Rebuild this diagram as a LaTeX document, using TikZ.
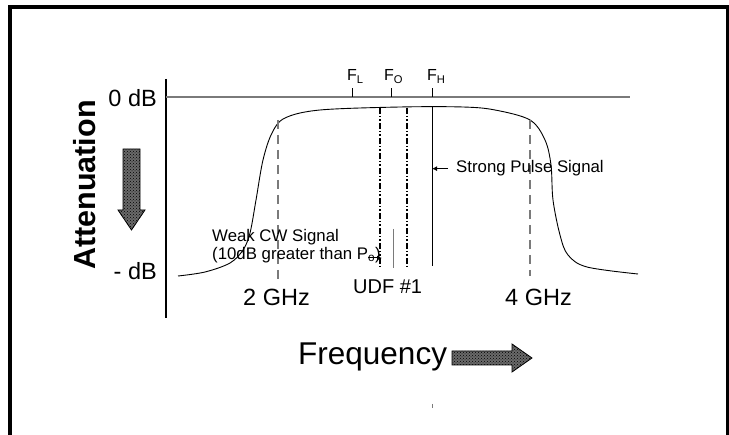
\documentclass[tikz,border=0pt]{standalone}
\usepackage{fontspec}
\setmainfont{Liberation Sans}
\usepackage{tikz}
\usetikzlibrary{arrows.meta,positioning,patterns,calc}
\definecolor{ATGray}{HTML}{7A7A7A}
\definecolor{ATShade}{HTML}{6A6A6A}
\newcommand{\Fband}[1]{F\textsubscript{#1}}

\begin{document}
\begin{tikzpicture}[x=1pt,y=-1pt,>=Latex]
\tikzset{flab/.style={font=\fontsize{16}{18}\selectfont,inner sep=0pt,anchor=base west},slab/.style={font=\fontsize{16.8}{18}\selectfont,inner sep=0pt,align=left},glab/.style={font=\fontsize{23.5}{25}\selectfont,inner sep=0pt},cutoff/.style={draw=ATGray,line width=1.5pt,dash pattern=on 9pt off 6pt},udfline/.style={line width=2pt,dash pattern=on 6pt off 2pt on 1.5pt off 2pt on 1.5pt off 2pt},shadearrow/.style={draw=black,line width=0.8pt,preaction={fill=ATShade},pattern=crosshatch dots,pattern color=black},sarrow/.style={-{Latex[length=5pt,width=5pt]},line width=1.5pt}}
\useasboundingbox (0,0) rectangle (729,435);
\draw[line width=4pt] (10,435) -- (10,7) -- (727.5,7) -- (727.5,435);
% axes
\draw[line width=2pt] (166,79) -- (166,318);
\draw[ATGray,line width=1.5pt] (166,97) -- (630,97);
\node[glab,anchor=base east] (zdb) at (157,107) {0 dB};
\node[glab,anchor=base east] (mdb) at (157,280) {- dB};
\node[font=\fontsize{30.5}{32}\selectfont\bfseries,inner sep=0pt,anchor=base,rotate=90] (att) at (95,185) {Attenuation};
\draw[shadearrow] (123,149) -- (140,149) -- (140,210) -- (145,210) -- (131.5,230) -- (118,210) -- (123,210) -- cycle;
\node[font=\fontsize{31.5}{33}\selectfont,inner sep=0pt,anchor=base west] (freq) at (298,365) {Frequency};
\draw[shadearrow] (452,351) -- (512,351) -- (512,344) -- (532,358) -- (512,372) -- (512,365) -- (452,365) -- cycle;
% band edges
\coordinate (fL) at (352,97);
\coordinate (fO) at (391,97);
\coordinate (fH) at (432,97);
\foreach \f in {fL,fO,fH} \draw[line width=1pt] (\f) -- ++(0,-9);
\node[flab] (lL) at (347,81) {\Fband{L}};
\node[flab] (lO) at (384,81) {\Fband{O}};
\node[flab] (lH) at (427,81) {\Fband{H}};
% filter response
\draw[line width=0.9pt] plot[smooth,tension=0.55] coordinates {(178,276) (205,272) (230,263) (243,250) (250,233) (256,200) (263,160) (272,133) (285,118) (320,110) (400,107) (463,107) (495,110) (530,120) (545,140) (551,165) (553,200) (560,235) (568,255) (587,267) (638,274)};
\draw[cutoff] (278,120) -- (278,282);
\draw[cutoff] (530,120) -- (530,276);
\node[glab,anchor=base west] (g2) at (243,306) {2 GHz};
\node[glab,anchor=base west] (g4) at (505,306) {4 GHz};
% UDF channel and signals
\draw[udfline] (380,108) -- (380,267);
\draw[udfline] (407,108) -- (407,267);
\draw[line width=1pt] (fH |- 0,107) -- (fH |- 0,266);
\draw[ATGray,line width=1pt] (393,229) -- (393,268);
\node[font=\fontsize{20}{22}\selectfont,inner sep=0pt,anchor=base west] (udf) at (353,294) {UDF \#1};
\node[slab,anchor=base west] (sp) at (456,173) {Strong Pulse Signal};
\draw[sarrow] ([xshift=-8pt]sp.west) -- (sp.west -| fH);
\node[slab,anchor=north west] (wk) at (212,229) {Weak CW Signal\\(10dB greater than P\textsubscript{o})};
\coordinate (wkTip) at (382,258);
\draw[sarrow,line width=1pt] ([xshift=-14pt]wkTip) -- (wkTip);
\draw[ATGray,line width=0.8pt] (432,404) -- (432,408);
\end{tikzpicture}
\end{document}
